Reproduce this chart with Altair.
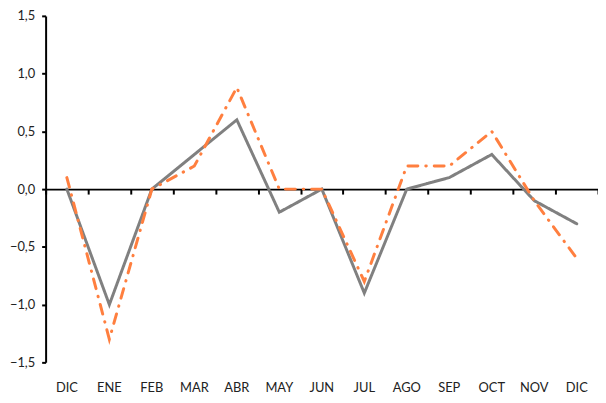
import altair as alt
import pandas as pd

# categories (unique keys; labels shown via labelExpr)
months = ["DIC", "ENE", "FEB", "MAR", "ABR", "MAY", "JUN", "JUL", "AGO", "SEP", "OCT", "NOV", "DIC"]
keys = [f"{m}{i:02d}" for i, m in enumerate(months)]

gray_vals = [0.0, -1.0, 0.0, 0.3, 0.6, -0.2, 0.0, -0.9, 0.0, 0.1, 0.3, -0.1, -0.3]
orange_vals = [0.1, -1.3, 0.0, 0.2, 0.88, 0.0, 0.0, -0.8, 0.2, 0.2, 0.5, -0.1, -0.6]

series_names = ["gray", "orange"]
series_colors = ["#808080", "#FF7F3F"]
series_dash = [[1, 0], [10, 8, 0.5, 8]]

y_ticks = [-1.5, -1.0, -0.5, 0.0, 0.5, 1.0, 1.5]

df = pd.DataFrame({
    "key": keys * 2,
    "series": ["gray"] * len(keys) + ["orange"] * len(keys),
    "order": list(range(len(keys))) * 2,
    "value": gray_vals + orange_vals,
})

W, H = 558, 350
FONT = "Lato"

xscale = alt.Scale(type="band", paddingInner=0, paddingOuter=0)
yscale = alt.Scale(domain=[-1.5, 1.5], nice=False, zero=False)

yaxis = alt.Axis(
    values=y_ticks, grid=False, domain=True, domainColor="#000000", domainWidth=2,
    ticks=True, tickColor="#000000", tickWidth=2, tickSize=4, labelPadding=7,
    labelExpr="replace(format(datum.value, '.1f'), '.', ',')",
    labelFont=FONT, labelFontSize=13, labelColor="#222222", title=None, zindex=1,
)

lines = alt.Chart(df).mark_line(strokeWidth=3, strokeCap="round").encode(
    x=alt.X("key:N", sort=keys, scale=xscale, bandPosition=0.5,
            axis=alt.Axis(orient="bottom", domain=False, ticks=False, tickSize=0,
                          labelPadding=19, labelAngle=0,
                          labelExpr="slice(datum.value, 0, 3)",
                          labelFont=FONT, labelFontSize=13, labelColor="#222222",
                          title=None, grid=False)),
    y=alt.Y("value:Q", scale=yscale, axis=yaxis, title=None),
    color=alt.Color("series:N", scale=alt.Scale(domain=series_names, range=series_colors), legend=None),
    strokeDash=alt.StrokeDash("series:N", scale=alt.Scale(domain=series_names, range=series_dash), legend=None),
    detail="series:N",
    order="order:Q",
)

zero_axis = alt.Chart(pd.DataFrame({"key": keys})).mark_rule(opacity=0).encode(
    x=alt.X("key:N", sort=keys, scale=xscale,
            axis=alt.Axis(orient="bottom", offset=-H / 2, labels=False, domain=True,
                          domainColor="#000000", domainWidth=2, ticks=True,
                          tickBand="extent", tickColor="#000000", tickWidth=2,
                          tickSize=5, title=None, grid=False)),
)

chart = alt.layer(zero_axis, lines).resolve_axis(x="independent").properties(
    width=W, height=H,
    background="white",
    autosize=alt.AutoSizeParams(type="none"),
    padding={"left": 38, "top": 6, "right": 0, "bottom": 30},
).configure_view(strokeWidth=0, stroke="transparent")

chart.save("out.html", embed_options={"renderer": "svg", "actions": False})
